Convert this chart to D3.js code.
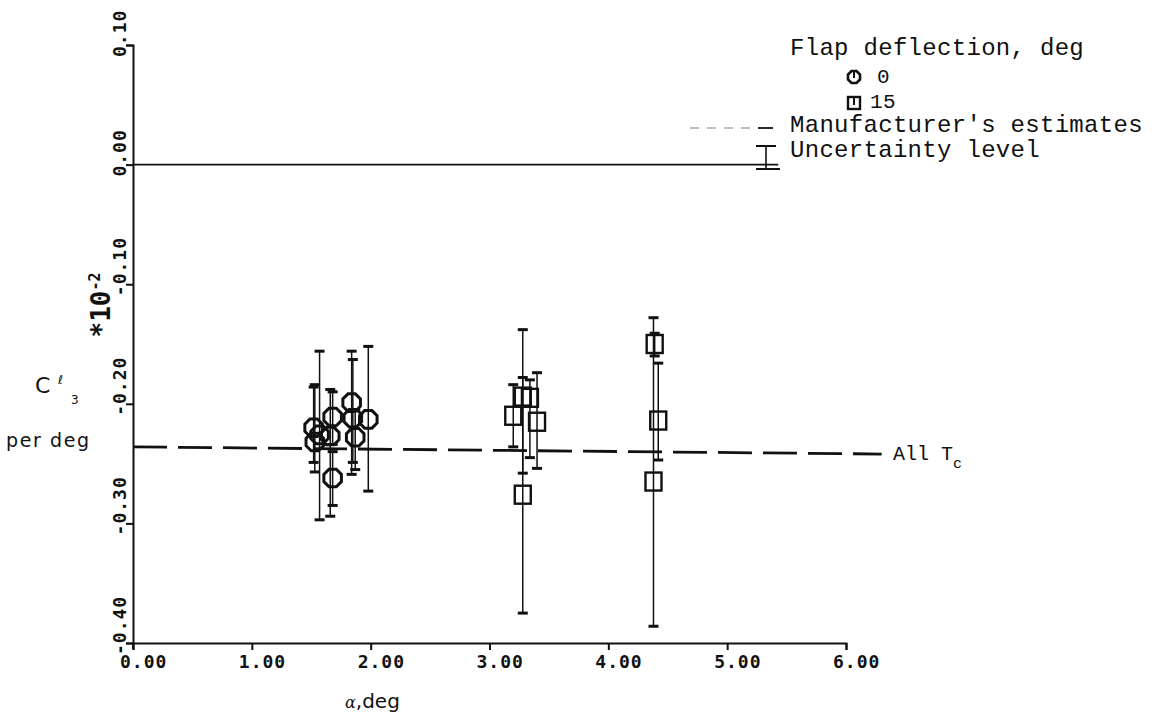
<!DOCTYPE html>
<html>
<head>
<meta charset="utf-8">
<script src="https://cdn.jsdelivr.net/npm/d3@7"></script>
<style>
  html, body { margin: 0; padding: 0; background: #fff; }
  svg { display: block; }
  text { fill: #111; }
</style>
</head>
<body>
<svg id="chart" width="1154" height="719"></svg>
<script>
// ---------- data ----------
const xTicks = [0, 1, 2, 3, 4, 5, 6];
const yTicks = [0.10, 0.00, -0.10, -0.20, -0.30, -0.40];
const xTickLabels = ["0.00", "1.00", "2.00", "3.00", "4.00", "5.00", "6.00"];
const yTickLabels = ["0.10", "0.00", "-0.10", "-0.20", "-0.30", "-0.40"];

// flap 0 deg (circles)
const circAlpha = [1.52, 1.53, 1.57, 1.68, 1.66, 1.68, 1.84, 1.85, 1.87, 1.98];
const circVal   = [-0.220, -0.232, -0.226, -0.211, -0.227, -0.262, -0.199, -0.212, -0.228, -0.213];
const circHi    = [-0.186, -0.184, -0.156, -0.190, -0.188, -0.240, -0.156, -0.163, -0.205, -0.152];
const circLo    = [-0.249, -0.257, -0.297, -0.234, -0.294, -0.285, -0.259, -0.249, -0.255, -0.273];

// flap 15 deg (squares)
const sqAlpha = [3.20, 3.28, 3.34, 3.40, 3.28, 4.39, 4.42, 4.38];
const sqVal   = [-0.210, -0.194, -0.195, -0.215, -0.276, -0.150, -0.214, -0.265];
const sqHi    = [-0.184, -0.178, -0.180, -0.174, -0.138, -0.141, -0.166, -0.128];
const sqLo    = [-0.236, -0.258, -0.245, -0.254, -0.375, -0.160, -0.247, -0.386];

// manufacturer's estimate line (all Tc) and zero reference line
const mfrAlpha = [0, 6.3];
const mfrVal   = [-0.236, -0.242];
const refAlpha = [0, 5.43];
const refVal   = [0, 0];

// ---------- drawing ----------
const svg = d3.select("#chart");
const x = d3.scaleLinear().domain([0, 6]).range([133, 846]);
const y = d3.scaleLinear().domain([-0.4, 0.1]).range([643, 45]);

const tickFont = "'DejaVu Sans Mono', monospace";
const legFont = "'Liberation Mono', 'Courier New', monospace";

// axes
const xAxis = d3.axisBottom(x).tickValues(xTicks).tickSize(7).tickFormat("");
const yAxis = d3.axisLeft(y).tickValues(yTicks).tickSize(7).tickFormat("");
const gx = svg.append("g").attr("transform", `translate(0,${y(-0.4)})`).call(xAxis);
const gy = svg.append("g").attr("transform", `translate(${x(0)},0)`).call(yAxis);
[gx, gy].forEach(g => {
  g.select(".domain").attr("stroke", "#111").attr("stroke-width", 2);
  g.selectAll(".tick line").attr("stroke", "#111").attr("stroke-width", 2);
});
svg.append("line").attr("x1", x(0)).attr("x2", x(0)).attr("y1", y(-0.4)).attr("y2", y(-0.4) + 6)
  .attr("stroke", "#111").attr("stroke-width", 2);

// x tick labels
svg.append("g").selectAll("text").data(xTicks).join("text")
  .attr("x", d => x(d) - 13)
  .attr("y", y(-0.4) + 25)
  .attr("font-family", tickFont)
  .attr("font-size", 18)
  .attr("font-weight", "bold")
  .attr("letter-spacing", 1)
  .text((d, i) => xTickLabels[i]);

// y tick labels (rotated)
svg.append("g").selectAll("text").data(yTicks).join("text")
  .attr("transform", d => `translate(126,${y(d) + 12}) rotate(-90)`)
  .attr("font-family", tickFont)
  .attr("font-size", 18)
  .attr("font-weight", "bold")
  .attr("letter-spacing", 1)
  .text((d, i) => yTickLabels[i]);

// y scale factor label
const sf = svg.append("text")
  .attr("transform", "translate(110,305) rotate(-90)")
  .attr("text-anchor", "middle")
  .attr("font-family", tickFont)
  .attr("font-size", 26)
  .attr("font-weight", "bold");
sf.append("tspan").text("*10");
sf.append("tspan").attr("dy", -10).attr("font-size", 15).text("-2");

// y axis title
svg.append("text").attr("x", 35).attr("y", 393)
  .attr("font-family", "'DejaVu Sans', sans-serif").attr("font-size", 22).text("C");
svg.append("text").attr("x", 58).attr("y", 384)
  .attr("font-family", "'DejaVu Sans', sans-serif").attr("font-size", 12).text("ℓ");
svg.append("text").attr("x", 71).attr("y", 404)
  .attr("font-family", "'DejaVu Sans', sans-serif").attr("font-size", 12).attr("fill", "#555").text("3");
svg.append("text").attr("x", 6).attr("y", 447)
  .attr("font-family", "'DejaVu Sans', sans-serif").attr("font-size", 19)
  .attr("letter-spacing", 1.6).text("per deg");

// x axis title
svg.append("text").attr("x", 345).attr("y", 708)
  .attr("font-family", "'DejaVu Sans', sans-serif").attr("font-size", 20)
  .html("<tspan font-style='italic' font-family='DejaVu Serif' font-size='16'>α</tspan>,deg");

// zero reference line
svg.append("path")
  .attr("d", d3.line()(refAlpha.map((a, i) => [x(a), y(refVal[i])])))
  .attr("stroke", "#111").attr("stroke-width", 1.6).attr("fill", "none");

// manufacturer's estimate line
svg.append("path")
  .attr("d", d3.line()(mfrAlpha.map((a, i) => [x(a), y(mfrVal[i])])))
  .attr("stroke", "#111").attr("stroke-width", 2.8).attr("fill", "none")
  .attr("stroke-dasharray", "34,11");

svg.append("text").attr("x", 893).attr("y", 460)
  .attr("font-family", legFont).attr("font-size", 20)
  .html("All T<tspan dy='8' font-size='15'>c</tspan>");

// error bars
function errorBars(xs, his, los) {
  const g = svg.append("g").attr("stroke", "#111");
  xs.forEach((a, i) => {
    const cx = x(a);
    g.append("line").attr("x1", cx).attr("x2", cx).attr("y1", y(his[i])).attr("y2", y(los[i]))
      .attr("stroke-width", 1.5);
    [his[i], los[i]].forEach(v => {
      g.append("line").attr("x1", cx - 5).attr("x2", cx + 5).attr("y1", y(v)).attr("y2", y(v))
        .attr("stroke-width", 3);
    });
  });
}
errorBars(circAlpha, circHi, circLo);
errorBars(sqAlpha, sqHi, sqLo);

function octagon(cx, cy, r) {
  const pts = d3.range(8).map(k => {
    const t = Math.PI / 8 + k * Math.PI / 4;
    return [cx + r * Math.cos(t), cy + r * Math.sin(t)];
  });
  return d3.line().curve(d3.curveLinearClosed)(pts);
}

// circles (flap 0)
svg.append("g").selectAll("path").data(circAlpha).join("path")
  .attr("d", (d, i) => octagon(x(d), y(circVal[i]), 9.5))
  .attr("fill", "none").attr("stroke", "#111").attr("stroke-width", 3);

// squares (flap 15)
svg.append("g").selectAll("rect").data(sqAlpha).join("rect")
  .attr("x", d => x(d) - 8)
  .attr("y", (d, i) => y(sqVal[i]) - 9)
  .attr("width", 16).attr("height", 18)
  .attr("fill", "none").attr("stroke", "#111").attr("stroke-width", 2.4);

// ---------- legend ----------
const lg = svg.append("g").attr("font-family", legFont).attr("font-size", 24).attr("letter-spacing", 0.3);
lg.append("text").attr("x", 790).attr("y", 55).text("Flap deflection, deg");
lg.append("path").attr("d", octagon(854, 77, 6.5)).attr("fill", "none").attr("stroke", "#111").attr("stroke-width", 2.6);
lg.append("line").attr("x1", 854).attr("x2", 854).attr("y1", 70).attr("y2", 78).attr("stroke", "#111").attr("stroke-width", 2);
lg.append("text").attr("x", 877).attr("y", 83).attr("font-size", 21).text("0");
lg.append("rect").attr("x", 848).attr("y", 97).attr("width", 12).attr("height", 12)
  .attr("fill", "none").attr("stroke", "#111").attr("stroke-width", 2.4);
lg.append("line").attr("x1", 854).attr("x2", 854).attr("y1", 97).attr("y2", 105).attr("stroke", "#111").attr("stroke-width", 2);
lg.append("text").attr("x", 870).attr("y", 108).attr("font-size", 21).text("15");
lg.append("line").attr("x1", 690).attr("x2", 754).attr("y1", 128).attr("y2", 128)
  .attr("stroke", "#aaa").attr("stroke-width", 1.5).attr("stroke-dasharray", "9,8");
lg.append("line").attr("x1", 758).attr("x2", 773).attr("y1", 128).attr("y2", 128)
  .attr("stroke", "#111").attr("stroke-width", 1.8);
lg.append("text").attr("x", 790).attr("y", 132).text("Manufacturer's estimates");
lg.append("line").attr("x1", 766).attr("x2", 766).attr("y1", 146).attr("y2", 168).attr("stroke", "#111").attr("stroke-width", 1.6);
lg.append("line").attr("x1", 756).attr("x2", 776).attr("y1", 146).attr("y2", 146).attr("stroke", "#111").attr("stroke-width", 2);
lg.append("line").attr("x1", 756).attr("x2", 780).attr("y1", 169).attr("y2", 169).attr("stroke", "#111").attr("stroke-width", 2);
lg.append("text").attr("x", 790).attr("y", 157).text("Uncertainty level");
</script>
</body>
</html>
